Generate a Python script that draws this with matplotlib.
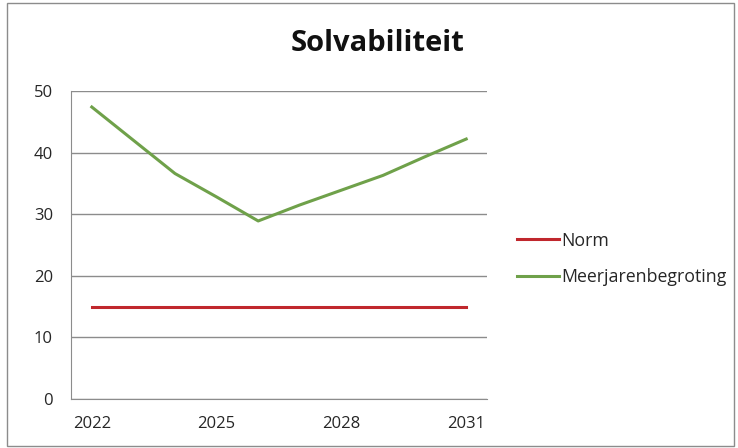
import matplotlib.pyplot as plt
from matplotlib.patches import Rectangle

plt.rcParams['font.family'] = ['Open Sans', 'DejaVu Sans']

# Jaren en reeksen
jaren = [2022, 2023, 2024, 2025, 2026, 2027, 2028, 2029, 2030, 2031]
norm = [15, 15, 15, 15, 15, 15, 15, 15, 15, 15]
meerjarenbegroting = [47.4, 42.0, 36.6, 32.8, 28.9, 31.5, 33.9, 36.3, 39.3, 42.2]

fig = plt.figure(figsize=(7.38, 4.48), dpi=100)
ax = fig.add_axes([0.0962, 0.1094, 0.5637, 0.6875])

x = range(len(jaren))
ax.plot(x, norm, color='#C0272D', lw=2.2, label='Norm')
ax.plot(x, meerjarenbegroting, color='#6FA14A', lw=2.2, label='Meerjarenbegroting')

ax.set_xlim(-0.5, len(jaren) - 0.5)
ax.set_ylim(0, 50)
ax.set_yticks(range(0, 51, 10))
ax.set_xticks([0, 3, 6, 9])
ax.set_xticklabels([str(jaren[i]) for i in [0, 3, 6, 9]])

ax.grid(axis='y', color='#8C8C8C', lw=1)
ax.set_axisbelow(True)
for side in ['top', 'right']:
    ax.spines[side].set_visible(False)
for side in ['left', 'bottom']:
    ax.spines[side].set_color('#8C8C8C')
ax.tick_params(axis='x', length=0, pad=12, labelsize=12, colors='#262626')
ax.tick_params(axis='y', length=0, pad=13, labelsize=12, colors='#262626')

fig.text(0.512, 0.902, 'Solvabiliteit', ha='center', va='center',
         fontsize=21, fontweight='bold', color='#111111')

fig.legend(loc='center left', bbox_to_anchor=(0.679, 0.422), frameon=False,
           fontsize=12.8, handlelength=2.35, handletextpad=0.15,
           labelspacing=1.05, labelcolor='#262626')

# rand om de hele grafiek
fig.patches.append(Rectangle((0.009, 0.004), 0.986, 0.99, transform=fig.transFigure,
                             fill=False, edgecolor='#8C8C8C', lw=1))

fig.savefig('out.png', dpi=100)
